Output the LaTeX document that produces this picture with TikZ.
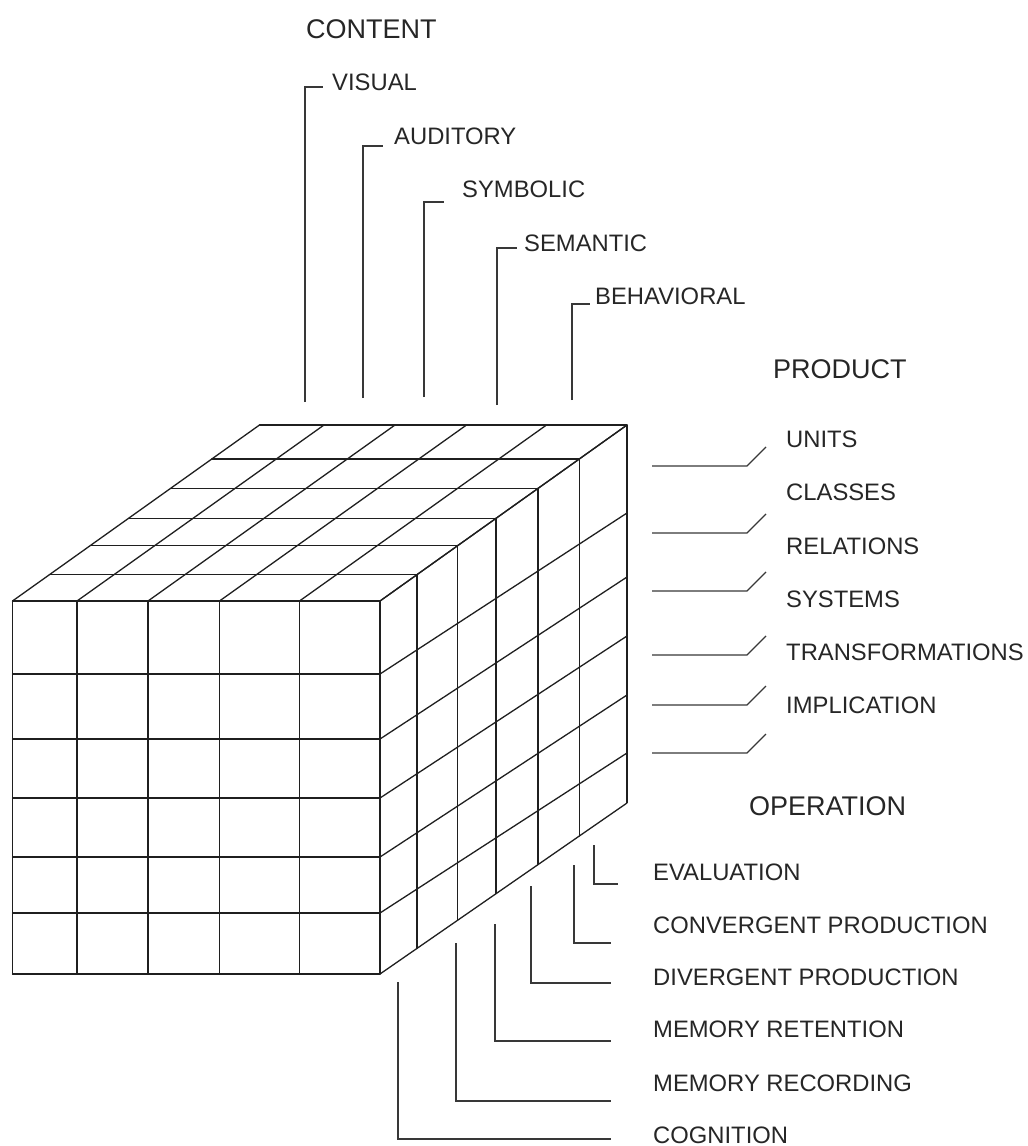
\documentclass[tikz,border=0pt]{standalone}
\usepackage{fontspec}
\setmainfont{Liberation Sans}
\begin{document}
\begin{tikzpicture}[x=1pt,y=-1pt,
  grid/.style={line width=1.3pt, black!88, line cap=round, line join=round},
  backedge/.style={line width=2.2pt, black!88},
  conn/.style={line width=1.1pt, black!78},
  lab/.style={anchor=west, inner sep=0pt, font=\fontsize{23.8}{28}\selectfont, text=black!85},
  head/.style={anchor=west, inner sep=0pt, font=\fontsize{27}{32}\selectfont, text=black!85}]
\useasboundingbox (0,0) rectangle (1028,1146);

% ---------------- cube ----------------
% front face
\foreach \x in {12.5,77,148,219.5,299.5,380}
  \draw[grid] (\x,601) -- (\x,974);
\foreach \y in {601,674,739,798,857,913,974}
  \draw[grid] (12.5,\y) -- (380,\y);
% top face
\foreach \x in {12.5,77,148,219.5,299.5,380}
  \draw[grid] (\x,601) -- ++(247,-176);
\foreach \t in {0.15,0.315,0.47,0.64,0.807,1}
  \draw[grid] ({12.5+247*\t},{601-176*\t}) -- ({380+247*\t},{601-176*\t});
% right face
\foreach \y/\b in {601/425,674/513,739/577,798/636,857/695,913/753,974/803}
  \draw[grid] (380,\y) -- (627,\b);
\foreach \t in {0.15,0.315,0.47,0.64,0.807}
  \draw[grid] ({380+247*\t},{601-176*\t}) -- ({380+247*\t},{974-171*\t});
\draw[backedge] (627,425) -- (627,803);

% ---------------- content ----------------
\node[head] (content) at (306,29) {CONTENT};
\node[lab] (visual) at (332,82) {VISUAL};
\node[lab] (auditory) at (394,136) {AUDITORY};
\node[lab] (symbolic) at (462,189) {SYMBOLIC};
\node[lab] (semantic) at (524,243) {SEMANTIC};
\node[lab] (behavioral) at (595,296) {BEHAVIORAL};

\coordinate (c1b) at (305,402); \coordinate (c1t) at (323,87);
\coordinate (c2b) at (363,398); \coordinate (c2t) at (383,146);
\coordinate (c3b) at (424,397); \coordinate (c3t) at (444,202);
\coordinate (c4b) at (497,405); \coordinate (c4t) at (517,248);
\coordinate (c5b) at (572,400); \coordinate (c5t) at (590,304);
\foreach \i in {1,...,5}
  \draw[conn] (c\i b) |- (c\i t);

% ---------------- product ----------------
\node[head] (product) at (773,369) {PRODUCT};
\node[lab] (units) at (786,439) {UNITS};
\node[lab] (classes) at (786,492) {CLASSES};
\node[lab] (relations) at (786,546) {RELATIONS};
\node[lab] (systems) at (786,599) {SYSTEMS};
\node[lab] (transf) at (786,652) {TRANSFORMATIONS};
\node[lab] (implic) at (786,705) {IMPLICATION};

\foreach \i/\L in {1/466,2/533,3/591,4/655,5/705,6/753}{
  \coordinate (p\i a) at (652,\L);
  \coordinate (p\i b) at (747,\L);
  \coordinate (p\i c) at (766,\L-19);
  \draw[conn] (p\i a) -- (p\i b) -- (p\i c);
}

% ---------------- operation ----------------
\node[head] (operation) at (749,806) {OPERATION};
\node[lab] (evaluation) at (653,872) {EVALUATION};
\node[lab] (convergent) at (653,925) {CONVERGENT PRODUCTION};
\node[lab] (divergent) at (653,977) {DIVERGENT PRODUCTION};
\node[lab] (retention) at (653,1029) {MEMORY RETENTION};
\node[lab] (recording) at (653,1083) {MEMORY RECORDING};
\node[lab] (cognition) at (653,1135) {COGNITION};

\coordinate (o1a) at (594,845);  \coordinate (o1b) at (618,884);
\coordinate (o2a) at (574,865);  \coordinate (o2b) at (611,943);
\coordinate (o3a) at (531,886);  \coordinate (o3b) at (611,983);
\coordinate (o4a) at (495,924);  \coordinate (o4b) at (611,1041);
\coordinate (o5a) at (456,943);  \coordinate (o5b) at (611,1101);
\coordinate (o6a) at (398,982);  \coordinate (o6b) at (611,1139);
\foreach \i in {1,...,6}
  \draw[conn] (o\i a) |- (o\i b);
\end{tikzpicture}
\end{document}
